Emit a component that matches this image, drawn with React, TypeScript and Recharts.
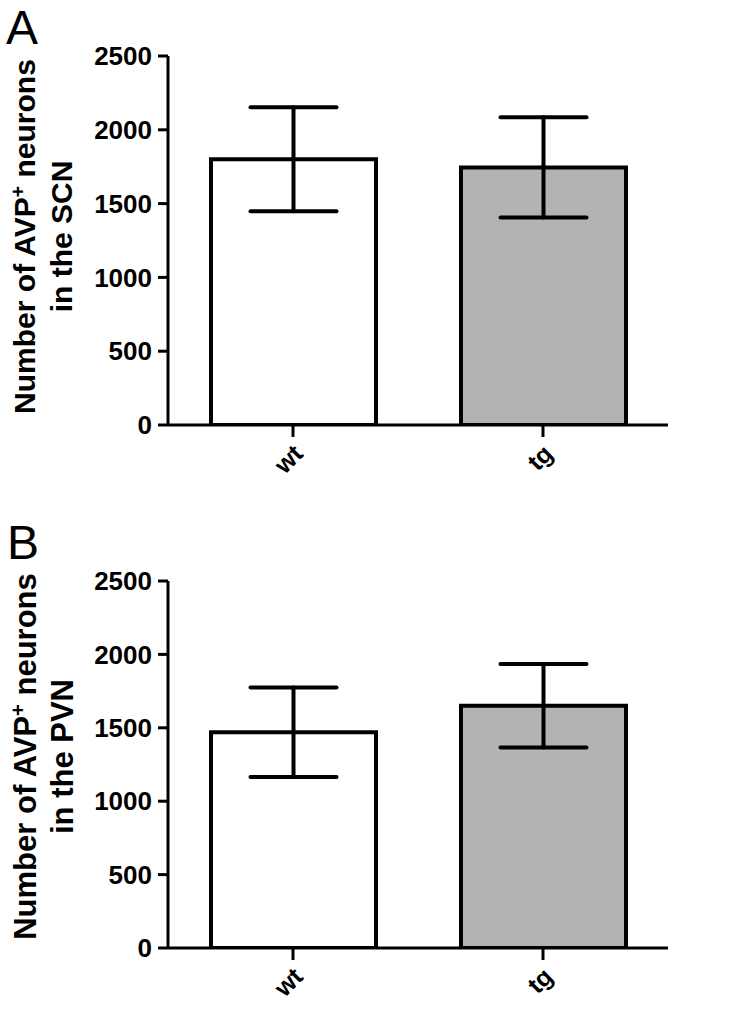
import { BarChart, Bar, XAxis, YAxis, ErrorBar, Cell, Label } from "recharts";

// ─── Data ────────────────────────────────────────────────
const GROUPS = ["wt", "tg"];
const SCN_MEANS = [1800, 1745];
const SCN_SEM = [352, 340];
const PVN_MEANS = [1470, 1650];
const PVN_SEM = [305, 285];
const Y_TICKS = [0, 500, 1000, 1500, 2000, 2500];
const FILLS = ["#ffffff", "#b3b3b3"];

const FONT = "'Liberation Sans', Arial, Helvetica, sans-serif";

// ─── Rotated category tick ───────────────────────────────
function AngledTick({ x, y, payload }: any) {
  const tx = x + 5;
  const ty = y + 10;
  return (
    <text
      x={tx}
      y={ty}
      transform={`rotate(-45 ${tx} ${ty})`}
      textAnchor="end"
      dominantBaseline="central"
      fontFamily={FONT}
      fontWeight="bold"
      fontSize={25}
      fill="#000"
    >
      {payload.value}
    </text>
  );
}

// ─── Two-line rotated y title ────────────────────────────
function YTitle({
  region,
  cy,
  size,
  x1,
  x2,
}: {
  region: string;
  cy: number;
  size: number;
  x1: number;
  x2: number;
}) {
  return (
    <g fontFamily={FONT} fontWeight="bold" fontSize={size} fill="#000">
      <text x={x1} y={cy} transform={`rotate(-90 ${x1} ${cy})`} textAnchor="middle">
        Number of AVP
        <tspan dy={-size * 0.35} fontSize={size * 0.65}>
          +
        </tspan>
        <tspan dy={size * 0.35}> neurons</tspan>
      </text>
      <text x={x2} y={cy} transform={`rotate(-90 ${x2} ${cy})`} textAnchor="middle">
        in the {region}
      </text>
    </g>
  );
}

interface PanelProps {
  letter: string;
  region: string;
  means: number[];
  sems: number[];
  top: number;
  height: number;
  letterLeft: number;
  letterTop: number;
  titleSize: number;
  titleShift: number;
  titleX: [number, number];
}

function Panel({
  letter,
  region,
  means,
  sems,
  top,
  height,
  letterLeft,
  letterTop,
  titleSize,
  titleShift,
  titleX,
}: PanelProps) {
  const data = GROUPS.map((g, i) => ({ group: g, mean: means[i], sem: sems[i] }));
  const plotTop = 56;
  const plotBottom = height - 75;
  const titleCy = (plotTop + plotBottom) / 2 + titleShift;

  return (
    <div style={{ position: "absolute", left: 0, top }}>
      <div
        style={{
          position: "absolute",
          left: letterLeft,
          top: letterTop,
          fontFamily: FONT,
          fontSize: 48,
          lineHeight: "normal",
          color: "#000",
        }}
      >
        {letter}
      </div>
      <BarChart
        width={731}
        height={height}
        data={data}
        margin={{ top: plotTop, right: 63, bottom: 0, left: 0 }}
        barSize={165}
      >
        <XAxis
          dataKey="group"
          height={75}
          axisLine={{ stroke: "#000", strokeWidth: 3 }}
          tickLine={{ stroke: "#000", strokeWidth: 3 }}
          tickSize={12}
          tick={<AngledTick />}
          interval={0}
        />
        <YAxis
          width={168}
          domain={[0, 2500]}
          ticks={Y_TICKS}
          allowDataOverflow
          axisLine={{ stroke: "#000", strokeWidth: 3 }}
          tickLine={{ stroke: "#000", strokeWidth: 3 }}
          tickSize={10}
          tickMargin={6}
          tick={{ fill: "#000", fontSize: 26, fontWeight: "bold", fontFamily: FONT }}
        >
          <Label
            content={() => (
              <YTitle region={region} cy={titleCy} size={titleSize} x1={titleX[0]} x2={titleX[1]} />
            )}
          />
        </YAxis>
        <Bar dataKey="mean" stroke="#000" strokeWidth={4} isAnimationActive={false}>
          {data.map((d, i) => (
            <Cell key={d.group} fill={FILLS[i]} />
          ))}
          <ErrorBar
            dataKey="sem"
            width={43}
            stroke="#000"
            strokeWidth={4}
            strokeLinecap="round"
            isAnimationActive={false}
          />
        </Bar>
      </BarChart>
    </div>
  );
}

export default function App() {
  return (
    <div
      style={{
        position: "absolute",
        left: 0,
        top: 0,
        width: 731,
        height: 1009,
        background: "#fff",
        overflow: "hidden",
      }}
    >
      <Panel
        letter="A"
        region="SCN"
        means={SCN_MEANS}
        sems={SCN_SEM}
        top={0}
        height={500}
        letterLeft={6}
        letterTop={0}
        titleSize={30}
        titleShift={-4}
        titleX={[35, 72]}
      />
      <Panel
        letter="B"
        region="PVN"
        means={PVN_MEANS}
        sems={PVN_SEM}
        top={525}
        height={498}
        letterLeft={7}
        letterTop={-10}
        titleSize={31}
        titleShift={-8}
        titleX={[36, 73]}
      />
    </div>
  );
}
